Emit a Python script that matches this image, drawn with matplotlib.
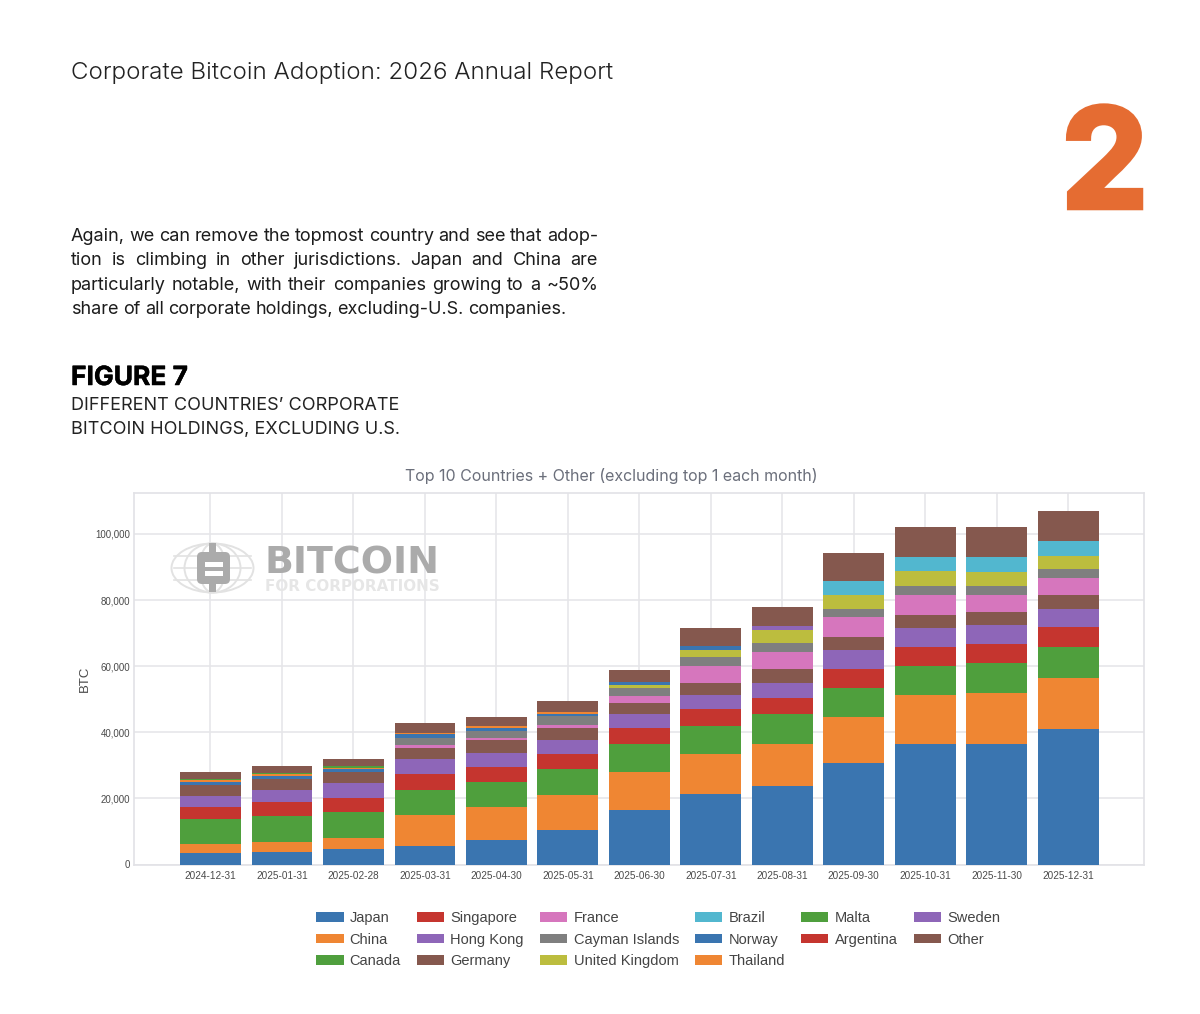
import numpy as np
import matplotlib
matplotlib.use("Agg")
import matplotlib.pyplot as plt
import matplotlib.patheffects as pe
from matplotlib.patches import Ellipse, Rectangle, FancyBboxPatch

dates = ["2024-12-31", "2025-01-31", "2025-02-28", "2025-03-31", "2025-04-30", "2025-05-31", "2025-06-30",
         "2025-07-31", "2025-08-31", "2025-09-30", "2025-10-31", "2025-11-30", "2025-12-31"]

japan = [3630, 3830, 4540, 5550, 7370, 10290, 16350, 21290, 23610, 30670, 36320, 36530, 40970]
china = [2620, 2830, 3530, 9380, 9890, 10800, 11700, 12110, 12920, 13920, 14830, 15340, 15440]
canada = [7470, 7970, 7670, 7670, 7570, 7770, 8370, 8580, 8880, 8780, 8880, 8980, 9280]
singapore = [3730, 4140, 4440, 4840, 4640, 4540, 4840, 5050, 4940, 5750, 5850, 5750, 6150]
hong_kong = [3330, 3730, 4340, 4340, 4340, 4340, 4340, 4240, 4540, 5650, 5650, 5750, 5550]
germany = [3230, 3230, 3430, 3530, 3730, 3530, 3330, 3630, 4140, 3940, 4040, 4040, 4040]
france = [0, 0, 0, 810, 810, 1010, 1920, 5250, 5350, 6150, 6050, 5050, 5250]
cayman = [0, 0, 0, 2220, 2120, 2620, 2420, 2520, 2520, 2420, 2720, 2720, 2830]
uk = [0, 0, 0, 0, 0, 0, 910, 2320, 3940, 4140, 4440, 4440, 3830]
brazil = [0, 0, 0, 0, 0, 0, 0, 0, 0, 4440, 4340, 4540, 4440]
norway = [1010, 1010, 910, 1010, 910, 610, 1010, 1110, 0, 0, 0, 0, 0]
thailand = [400, 500, 400, 500, 500, 500, 0, 0, 0, 0, 0, 0, 0]
malta = [500, 500, 400, 0, 0, 0, 0, 0, 0, 0, 0, 0, 0]
argentina = [0, 0, 0, 0, 0, 0, 0, 0, 0, 0, 0, 0, 0]
sweden = [0, 0, 0, 0, 0, 0, 0, 0, 1310, 0, 0, 0, 0]
other = [2020, 2120, 2120, 2830, 2720, 3330, 3730, 5350, 5650, 8270, 8880, 9080, 9180]

names = ["Japan", "China", "Canada", "Singapore", "Hong Kong", "Germany", "France", "Cayman Islands",
         "United Kingdom", "Brazil", "Norway", "Thailand", "Malta", "Argentina", "Sweden", "Other"]
series = [japan, china, canada, singapore, hong_kong, germany, france, cayman,
          uk, brazil, norway, thailand, malta, argentina, sweden, other]
colors = ["#3a75b0", "#ef8633", "#4f9f3d", "#c5352f", "#8e66b8", "#85584e", "#d676bd", "#7f7f7f",
          "#bcbd3e", "#52b7cf", "#3a75b0", "#ef8633", "#4f9f3d", "#c5352f", "#8e66b8", "#85584e"]

W, H = 1200, 1014
fig = plt.figure(figsize=(W / 100, H / 100), dpi=100)

# chart area, in pixels of the page
left, right, top, bottom = 134, 1144, 493, 864.5
ax = fig.add_axes([left / W, 1 - bottom / H, (right - left) / W, (bottom - top) / H])

x = np.arange(len(dates))
base = np.zeros(len(dates))
for name, vals, col in zip(names, series, colors):
    ax.bar(x, vals, width=0.85, bottom=base, color=col, label=name, zorder=3)
    base += np.array(vals)

ax.set_xlim(-1.07, 13.06)
ax.set_ylim(0, 112400)
ax.set_yticks([0, 20000, 40000, 60000, 80000, 100000])
ax.yaxis.set_major_formatter(matplotlib.ticker.FuncFormatter(lambda v, p: f"{int(v):,}"))
ax.set_xticks(x)
ax.set_xticklabels(dates)
ax.tick_params(axis="x", length=0, labelsize=7.2, labelcolor="#4a4a4a", pad=5)
ax.tick_params(axis="y", length=0, labelsize=7.0, labelcolor="#4a4a4a", pad=3)
for t in ax.get_xticklabels() + ax.get_yticklabels():
    t.set_fontfamily("Liberation Sans")
ax.grid(True, color="#e5e5e9", linewidth=1.15, zorder=0)
ax.set_axisbelow(True)
for s in ax.spines.values():
    s.set_color("#e2e2e6")
    s.set_linewidth(1.2)
ax.set_ylabel("BTC", fontsize=9.5, color="#4a4a4a", family="Liberation Sans", labelpad=3)

fig.legend(*ax.get_legend_handles_labels(), ncol=6, frameon=False, loc="upper left",
           bbox_to_anchor=(303 / W, 1 - 898 / H), prop={"family": "Liberation Sans", "size": 10.5},
           labelcolor="#444444", handlelength=1.88, handleheight=0.62, handletextpad=0.42,
           labelspacing=0.52, columnspacing=1.1, borderpad=0.4)

# page overlay in pixel coordinates
page = fig.add_axes([0, 0, 1, 1], zorder=5)
page.set_xlim(0, W)
page.set_ylim(H, 0)
page.axis("off")

page.text(71, 79, "Corporate Bitcoin Adoption: 2026 Annual Report", fontsize=17.4, family="Inter",
          weight=300, color="#222222", va="baseline")
page.text(1148, 207.5, "2", fontsize=99, family="Inter", weight="bold", color="#e56c32", ha="right", va="baseline",
          path_effects=[pe.withStroke(linewidth=4, foreground="#e56c32", joinstyle="miter")])

body = ["Again, we can remove the topmost country and see that adop-",
        "tion is climbing in other jurisdictions. Japan and China are",
        "particularly notable, with their companies growing to a ~50%",
        "share of all corporate holdings, excluding-U.S. companies."]
body_y = [241, 265, 290, 314]


def justified(line, y, x0, x1, stretch=True):
    # word by word so the column edge stays straight
    words = line.split(" ")
    rend = fig.canvas.get_renderer()
    items = [page.text(0, y, w, fontsize=13, family="Inter", color="#1c1c1c", va="baseline") for w in words]
    widths = [t.get_window_extent(rend).width for t in items]
    space = 4.5
    if stretch:
        space = (x1 - x0 - sum(widths)) / (len(words) - 1)
    pos = x0
    for t, w in zip(items, widths):
        t.set_x(pos)
        pos += w + space


for i, (line, y) in enumerate(zip(body, body_y)):
    justified(line, y, 71, 598, stretch=i < 3)

page.text(71, 385, "FIGURE 7", fontsize=19, family="Inter", weight="bold", color="black", va="baseline",
          path_effects=[pe.withStroke(linewidth=0.35, foreground="black", joinstyle="miter")])
page.text(71, 410, "DIFFERENT COUNTRIES’ CORPORATE", fontsize=13, family="Inter", color="#222222", va="baseline")
page.text(71, 434, "BITCOIN HOLDINGS, EXCLUDING U.S.", fontsize=13, family="Inter", color="#222222", va="baseline")
page.text(611.5, 476, "Top 10 Countries + Other (excluding top 1 each month)", fontsize=11.5, family="Inter",
          color="#6b6f7b", ha="center", va="center")

# watermark logo, sits over the empty part of the plot
globe = "#e2e2e2"
for rx in (41, 28, 13):
    page.add_patch(Ellipse((212.5, 568), rx * 2, 49, fill=False, ec=globe, lw=1.4, zorder=1))
for yy in (556, 568, 580):
    page.plot([174, 251], [yy, yy], color=globe, lw=1.2, zorder=1)
logo = "#ababab"
page.add_patch(Rectangle((209, 543), 7, 49, color=logo, lw=0, zorder=2))
page.add_patch(FancyBboxPatch((197, 552), 33, 32, boxstyle="round,pad=0,rounding_size=5", color=logo, lw=0, zorder=2))
page.add_patch(Rectangle((205, 562), 18, 5, color="white", lw=0, zorder=3))
page.add_patch(Rectangle((205, 570.5), 18, 5.5, color="white", lw=0, zorder=3))
page.text(264, 573, "BITCOIN", fontsize=27.4, family="DejaVu Sans", weight="bold", color=logo, va="baseline")
page.text(265, 591, "FOR CORPORATIONS", fontsize=10.9, family="DejaVu Sans", weight="bold", color="#e6e6e6", va="baseline")

fig.savefig("out.png", dpi=100, facecolor="white")
